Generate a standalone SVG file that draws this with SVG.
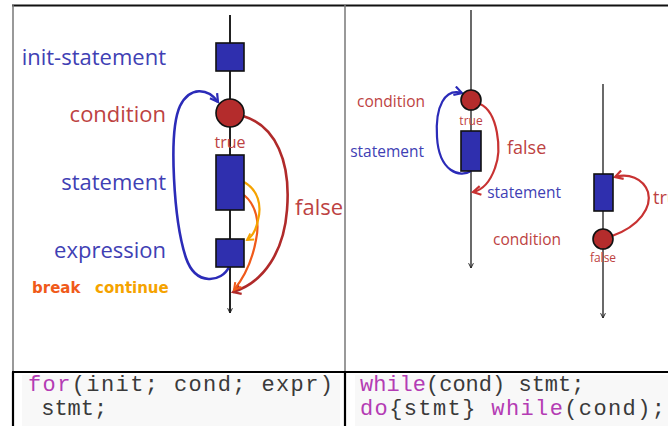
<svg xmlns="http://www.w3.org/2000/svg" width="668" height="426" viewBox="0 0 668 426">
<style>
.lbl{font-family:"Open Sans","Noto Sans",sans-serif;}
.blue{fill:#4040b4;}
.red{fill:#bd4242;}
.box{fill:#2f2fae;stroke:#111;stroke-width:1.6;}
.cond{fill:#b42c2c;stroke:#111;stroke-width:1.6;}
.axis{stroke:#222;stroke-width:2;fill:none;}
.axis2{stroke:#444;stroke-width:1.6;fill:none;}
.code{font-family:"Liberation Mono","Courier New",monospace;font-size:22px;fill:#3a3a3a;}
.kw{fill:#b43cb4;}
.hand{font-family:"DejaVu Sans","Noto Sans",sans-serif;font-weight:bold;font-size:15px;}
</style>
<defs>
<marker id="aBlack" viewBox="0 0 10 10" refX="9" refY="5" markerWidth="6" markerHeight="6" orient="auto" markerUnits="userSpaceOnUse"><path d="M1,1 L9,5 L1,9" fill="none" stroke="#222" stroke-width="1.6"/></marker>
<marker id="aBlue" viewBox="0 0 10 10" refX="8" refY="5" markerWidth="11" markerHeight="11" orient="auto" markerUnits="userSpaceOnUse"><path d="M1,1 L8,5 L1,9" fill="none" stroke="#2b2bb8" stroke-width="2"/></marker>
<marker id="aRed" viewBox="0 0 10 10" refX="8" refY="5" markerWidth="11" markerHeight="11" orient="auto" markerUnits="userSpaceOnUse"><path d="M1,1 L8,5 L1,9" fill="none" stroke="#b02a2a" stroke-width="2"/></marker>
<marker id="aRed2" viewBox="0 0 10 10" refX="8" refY="5" markerWidth="11" markerHeight="11" orient="auto" markerUnits="userSpaceOnUse"><path d="M1,1 L8,5 L1,9" fill="none" stroke="#c83232" stroke-width="2"/></marker>
<marker id="aOrange" viewBox="0 0 10 10" refX="8" refY="5" markerWidth="10" markerHeight="10" orient="auto" markerUnits="userSpaceOnUse"><path d="M1,1 L8,5 L1,9" fill="none" stroke="#f05a1a" stroke-width="2"/></marker>
<marker id="aYellow" viewBox="0 0 10 10" refX="8" refY="5" markerWidth="9" markerHeight="9" orient="auto" markerUnits="userSpaceOnUse"><path d="M1,1 L8,5 L1,9" fill="none" stroke="#f5a300" stroke-width="2"/></marker>
</defs>

<!-- table -->
<g id="table">
<rect x="0" y="0" width="668" height="426" fill="#fff"/>
<rect x="22" y="375" width="318" height="51" fill="#f8f8f8"/>
<rect x="355" y="375" width="313" height="51" fill="#f8f8f8"/>
<line x1="12" y1="5.5" x2="668" y2="5.5" stroke="#111" stroke-width="2"/>
<line x1="13" y1="5" x2="13" y2="372" stroke="#777" stroke-width="1.5"/>
<line x1="345" y1="5" x2="345" y2="372" stroke="#777" stroke-width="1.5"/>
<line x1="12" y1="372" x2="668" y2="372" stroke="#000" stroke-width="2.2"/>
<line x1="13" y1="372" x2="13" y2="426" stroke="#000" stroke-width="2.2"/>
<line x1="345" y1="372" x2="345" y2="426" stroke="#000" stroke-width="2.2"/>
</g>

<!-- connectors -->
<g id="connectors" fill="none">
<path class="axis" d="M230,15 L230,313" marker-end="url(#aBlack)"/>
<path d="M229,267 C222,282 196,287 186,258 C174,222 168,132 180,106 C190,86 208,88 218,102" stroke="#2b2bb8" stroke-width="2.6" marker-end="url(#aBlue)"/>
<path d="M243,116 C276,126 291,162 287,210 C284,250 265,282 233,292" stroke="#b02a2a" stroke-width="2.6" marker-end="url(#aRed)"/>
<path d="M244,195 C256,205 260,222 256,240 C252,262 242,280 234,290" stroke="#f05a1a" stroke-width="2.2" marker-end="url(#aOrange)"/>
<path d="M244,182 C258,190 262,205 258,220 C256,230 253,236 247,240" stroke="#f5a300" stroke-width="2.2" marker-end="url(#aYellow)"/>

<path class="axis2" d="M471,10 L471,268" marker-end="url(#aBlack)"/>
<path d="M471,171 C460,178 439,172 437,137 C435,106 445,88 462,93" stroke="#2b2bb8" stroke-width="2.2" marker-end="url(#aBlue)"/>
<path d="M480,104 C498,112 502,150 495,168 C490,182 483,190 473,192" stroke="#c83232" stroke-width="2.2" marker-end="url(#aRed2)"/>

<path class="axis2" d="M603,84 L603,318" marker-end="url(#aBlack)"/>
<path d="M612,236 C640,226 652,207 648,192 C643,178 628,173 615,177" stroke="#c83232" stroke-width="2.2" marker-end="url(#aRed2)"/>
</g>

<!-- for loop nodes -->
<g id="init-statement">
<rect class="box" x="216" y="43" width="28" height="28"/>
<text class="lbl blue" x="166" y="65" font-size="22" text-anchor="end">init-statement</text>
</g>
<g id="condition">
<circle class="cond" cx="230" cy="113" r="14"/>
<text class="lbl red" x="166" y="122" font-size="22" text-anchor="end">condition</text>
<text class="lbl red" x="230" y="148" font-size="16" text-anchor="middle">true</text>
</g>
<g id="statement">
<rect class="box" x="216" y="155" width="28" height="55"/>
<text class="lbl blue" x="166" y="190" font-size="22" text-anchor="end">statement</text>
</g>
<g id="expression">
<rect class="box" x="216" y="239" width="28" height="28"/>
<text class="lbl blue" x="166" y="258" font-size="22" text-anchor="end">expression</text>
</g>
<g id="labels-for">
<text class="lbl red" x="295" y="215" font-size="22">false</text>
<text class="hand" x="32" y="293" fill="#f05a1a">break</text>
<text class="hand" x="95" y="293" fill="#f5a300">continue</text>
</g>

<!-- while loop -->
<g id="while-condition">
<circle class="cond" cx="471" cy="100" r="10"/>
<text class="lbl red" x="425" y="107" font-size="15.5" text-anchor="end">condition</text>
<text class="lbl red" x="471" y="125" font-size="12" text-anchor="middle">true</text>
</g>
<g id="while-statement">
<rect class="box" x="461" y="131" width="20" height="40"/>
<text class="lbl blue" x="424" y="157" font-size="15.5" text-anchor="end">statement</text>
</g>
<g id="labels-while">
<text class="lbl red" x="507" y="154" font-size="18">false</text>
</g>

<!-- do-while loop -->
<g id="do-statement">
<rect class="box" x="594" y="174" width="19" height="37"/>
<text class="lbl blue" x="561" y="198" font-size="15.5" text-anchor="end">statement</text>
</g>
<g id="do-condition">
<circle class="cond" cx="603" cy="239" r="10"/>
<text class="lbl red" x="561" y="245" font-size="15.5" text-anchor="end">condition</text>
<text class="lbl red" x="603" y="262" font-size="12" text-anchor="middle">false</text>
</g>
<g id="labels-do">
<text class="lbl red" x="653" y="204" font-size="18">true</text>
</g>

<!-- code -->
<g id="code-for">
<text class="code" x="28" y="391" textLength="305" lengthAdjust="spacing"><tspan class="kw">for</tspan>(init; cond; expr)</text>
<text class="code" x="28" y="415" xml:space="preserve"> stmt;</text>
</g>
<g id="code-while">
<text class="code" x="360" y="391"><tspan class="kw">while</tspan>(cond) stmt;</text>
<text class="code" x="360" y="415" textLength="305" lengthAdjust="spacing"><tspan class="kw">do</tspan>{stmt} <tspan class="kw">while</tspan>(cond);</text>
</g>
</svg>
